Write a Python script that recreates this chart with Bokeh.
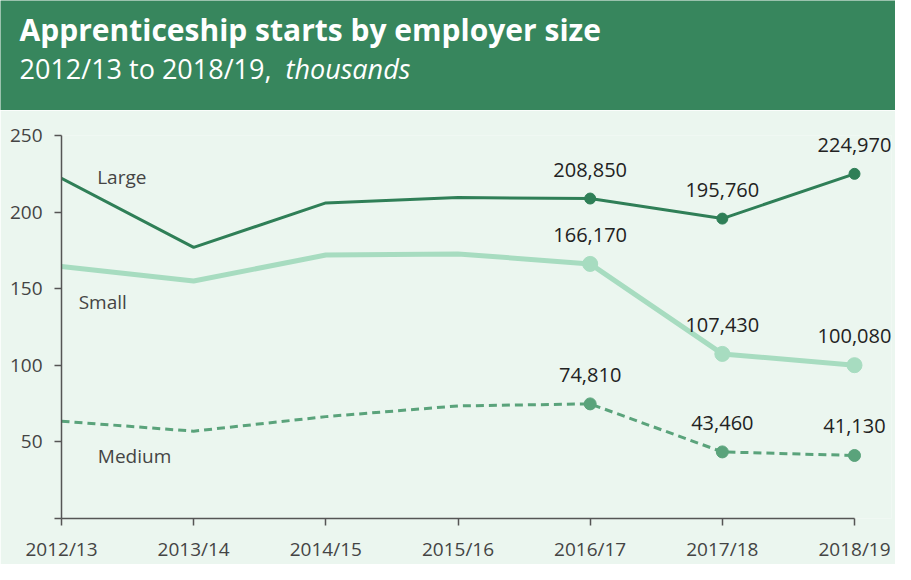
from bokeh.plotting import figure
from bokeh.models import Range1d, ColumnDataSource, Label, LabelSet
from bokeh.layouts import column
from bokeh.core.properties import value
from bokeh.embed import file_html
from bokeh.resources import INLINE

# ---- data ----
categories = ["2012/13", "2013/14", "2014/15", "2015/16", "2016/17", "2017/18", "2018/19"]
large = [222.0, 177.0, 206.0, 209.5, 208.85, 195.76, 224.97]
small = [164.5, 155.0, 172.0, 172.7, 166.17, 107.43, 100.08]
medium = [63.5, 57.0, 66.5, 73.5, 74.81, 43.46, 41.13]
y_ticks = [0, 50, 100, 150, 200, 250]
labelled_from = 4  # markers and value labels from 2016/17 onwards
series_names = ["Large", "Small", "Medium"]

title_text = "Apprenticeship starts by employer size"
subtitle_text = "2012/13 to 2018/19,"
subtitle_italic = "thousands"

FONT = "Open Sans"
HEADER_GREEN = "#37865d"
BG = "#ebf6ef"
C_LARGE = "#2f7f57"
C_SMALL = "#a7dcc0"
C_MEDIUM = "#5aa37b"
AXIS = "#555555"

W = 895
HEADER_H = 110
MAIN_H = 454
LEFT = 61          # frame left (canvas px)
LAST_X = 854       # canvas px of last category
RIGHT = 4          # right border
n = len(categories)
x_end = (n - 1) * (W - LEFT - RIGHT) / (LAST_X - LEFT)

# ---- header ----
h = figure(width=W, height=HEADER_H, output_backend="svg", toolbar_location=None,
           x_range=Range1d(0, W), y_range=Range1d(HEADER_H, 0),
           min_border_left=0, min_border_right=0, min_border_top=0, min_border_bottom=0)
h.frame_align = False
h.axis.visible = False
h.grid.visible = False
h.outline_line_color = None
h.background_fill_color = HEADER_GREEN
h.border_fill_color = HEADER_GREEN
h.add_layout(Label(x=19, y=29, text=title_text, text_font=FONT, text_font_style="bold",
                   text_font_size="30px", text_color="white", text_baseline="alphabetic"))
h.add_layout(Label(x=19, y=68, text=subtitle_text, text_font=FONT,
                   text_font_size="27px", text_color="white", text_baseline="alphabetic"))
h.add_layout(Label(x=285, y=68, text=subtitle_italic, text_font=FONT, text_font_style="italic",
                   text_font_size="27px", text_color="white", text_baseline="alphabetic"))

# ---- main chart ----
xs = list(range(n))
p = figure(width=W, height=MAIN_H, output_backend="svg", toolbar_location=None,
           x_range=Range1d(0, x_end), y_range=Range1d(0, 250),
           min_border_left=LEFT, min_border_right=RIGHT, min_border_top=25, min_border_bottom=41)
p.background_fill_color = BG
p.border_fill_color = BG
p.outline_line_color = None
p.grid.visible = False

for ax in (p.xaxis[0], p.yaxis[0]):
    ax.axis_line_color = AXIS
    ax.axis_line_width = 1.5
    ax.major_tick_line_color = AXIS
    ax.major_tick_line_width = 1.5
    ax.major_tick_in = 0
    ax.major_tick_out = 7
    ax.minor_tick_line_color = None
    ax.major_label_text_font = FONT
    ax.major_label_text_font_size = "19px"
    ax.major_label_text_color = "#444444"

p.yaxis.ticker = y_ticks
p.yaxis.major_label_overrides = {0: ""}
p.yaxis.major_label_standoff = 12
p.xaxis.ticker = xs
p.xaxis.bounds = (0, n - 1)
p.xaxis.major_label_overrides = {i: c for i, c in enumerate(categories)}
p.xaxis.major_label_standoff = 10

p.line(xs, large, line_color=C_LARGE, line_width=3)
p.line(xs, small, line_color=C_SMALL, line_width=5)
p.line(xs, medium, line_color=C_MEDIUM, line_width=3, line_dash="8 5")

lx = xs[labelled_from:]
p.scatter(lx, large[labelled_from:], size=11, color=C_LARGE)
p.scatter(lx, small[labelled_from:], size=15, color=C_SMALL)
p.scatter(lx, medium[labelled_from:], size=12, color=C_MEDIUM)

lab_y = large[labelled_from:] + small[labelled_from:] + medium[labelled_from:]
lab_x = lx * 3
src = ColumnDataSource(dict(x=lab_x, y=lab_y, t=[f"{v * 1000:,.0f}" for v in lab_y]))
p.add_layout(LabelSet(x="x", y="y", text="t", source=src, text_font=value(FONT),
                      text_font_size="20px", text_color="#222222", text_align="center",
                      text_baseline="middle", y_offset=29))

p.text(x=[0.27, 0.13, 0.275], y=[223, 141, 41], text=series_names, text_font=value(FONT),
       text_font_size="19px", text_color="#444444", text_baseline="middle")

layout = column(h, p, spacing=0)
open("out.html", "w").write(file_html(layout, INLINE))
